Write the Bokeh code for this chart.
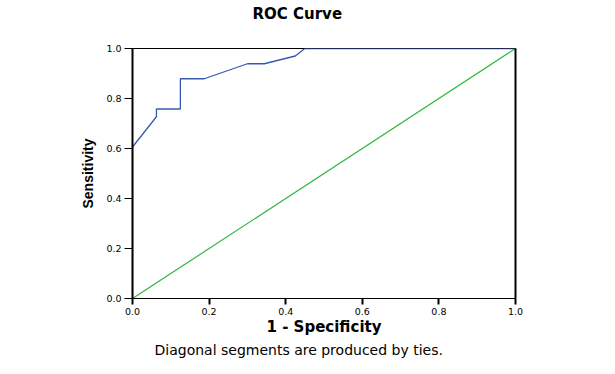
from bokeh.plotting import figure
from bokeh.models import Range1d, LinearAxis, Title, FixedTicker, CustomJSTickFormatter
from bokeh.embed import file_html
from bokeh.resources import INLINE

# ROC curve data (1 - specificity, sensitivity)
fpr = [0.0, 0.0, 0.0625, 0.0625, 0.125, 0.125, 0.1875, 0.30, 0.344, 0.425, 0.45, 1.0]
tpr = [0.0, 0.606, 0.727, 0.758, 0.758, 0.879, 0.879, 0.939, 0.939, 0.970, 1.0, 1.0]
ref_x = [0.0, 1.0]
ref_y = [0.0, 1.0]
ticks = [0.0, 0.2, 0.4, 0.6, 0.8, 1.0]

W, H = 600, 366
p = figure(width=W, height=H, output_backend="svg", toolbar_location=None,
           x_range=Range1d(0, 1), y_range=Range1d(0, 1),
           min_border_left=132, min_border_right=85, min_border_top=0, min_border_bottom=68)
p.frame_width = 383
p.frame_height = 250
p.grid.visible = False
p.outline_line_color = "black"
p.outline_line_width = 1
p.background_fill_color = "white"
p.border_fill_color = "white"

p.line(ref_x, ref_y, line_color="#2eb83a", line_width=1.2)
p.line(fpr, tpr, line_color="#3a58b0", line_width=1.3)

fmt = CustomJSTickFormatter(code="return tick.toFixed(1);")
for ax in (p.xaxis[0], p.yaxis[0]):
    ax.ticker = FixedTicker(ticks=ticks)
    ax.formatter = fmt
    ax.minor_tick_line_color = None
    ax.major_tick_in = 0
    ax.axis_line_color = "black"
    ax.major_tick_line_color = "black"
    ax.major_label_text_font = "DejaVu Sans"
    ax.major_label_text_font_size = "9.5px"
    ax.major_label_text_color = "black"
    ax.axis_label_text_font_style = "bold"
    ax.axis_label_text_color = "black"

p.xaxis[0].major_tick_out = 6
p.xaxis[0].major_tick_line_width = 2
p.xaxis[0].major_label_standoff = 3
p.xaxis[0].axis_label = "1 - Specificity"
p.xaxis[0].axis_label_text_font = "DejaVu Sans"
p.xaxis[0].axis_label_text_font_size = "15px"
p.xaxis[0].axis_label_standoff = 0

p.yaxis[0].major_tick_out = 8
p.yaxis[0].axis_line_width = 2
p.yaxis[0].major_label_standoff = 3
p.yaxis[0].axis_label = "Sensitivity"
p.yaxis[0].axis_label_text_font = "Liberation Sans"
p.yaxis[0].axis_label_text_font_size = "14px"
p.yaxis[0].axis_label_standoff = 7

right = LinearAxis(ticker=FixedTicker(ticks=[]), axis_line_width=2, axis_line_color="black",
                   major_label_text_font_size="0px", major_tick_line_color=None,
                   minor_tick_line_color=None)
p.add_layout(right, "right")

# spacer between the frame and the title
p.add_layout(Title(text=" ", text_font_size="1px", standoff=21), "above")
p.add_layout(Title(text="ROC Curve", align="left", offset=120,
                   text_font="DejaVu Sans", text_font_style="bold", text_font_size="15px",
                   text_color="black", standoff=4), "above")
p.add_layout(Title(text="Diagonal segments are produced by ties.", align="left", offset=22,
                   text_font="DejaVu Sans", text_font_style="normal", text_font_size="14px",
                   text_color="black", standoff=3), "below")

open("out.html", "w").write(file_html(p, INLINE))
